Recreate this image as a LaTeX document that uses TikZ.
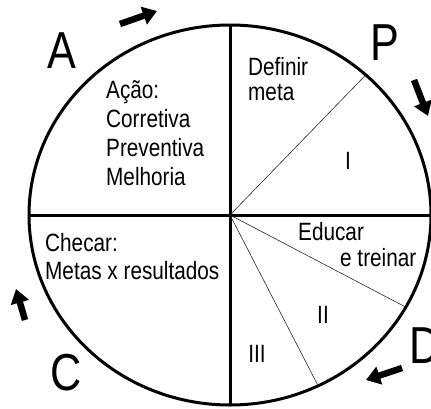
\documentclass[tikz,border=0pt]{standalone}
\usepackage{fontspec}
\setmainfont{Liberation Sans}[FakeStretch=0.83]
\usetikzlibrary{arrows.meta}
\tikzset{
  txt/.style={inner sep=0pt, anchor=base west, align=left, font=\fontsize{25}{29}\selectfont},
  letra/.style={inner sep=0pt, anchor=base, font=\fontsize{52}{52}\selectfont},
  romano/.style={inner sep=0pt, font=\fontsize{25}{29}\selectfont},
  setor/.style={line width=0.6pt, black!85},
  giro/.style={line width=6.5pt, -{Triangle[width=18pt,length=14pt]}},
}
\begin{document}
\begin{tikzpicture}[x=1pt,y=-1pt]
        \useasboundingbox (0,0) rectangle (431,408);
        \clip (0,0) rectangle (431,408);
        \coordinate (O) at (230,215);
        \path (O) ++(-90:201 and 190) coordinate (N);
        \path (O) ++(90:201 and 190) coordinate (S);
        \path (O) ++(180:201 and 190) coordinate (W);
        \path (O) ++(0:201 and 190) coordinate (E);
        \path (O) ++(-47.5:201 and 190) coordinate (p1);
        \path (O) ++(29:201 and 190) coordinate (p2);
        \path (O) ++(64:201 and 190) coordinate (p3);
        % circulo e quadrantes
        \draw[line width=3pt] (O) ellipse [x radius=201, y radius=190];
        \draw[line width=3pt] (N) -- (S);
        \draw[line width=3pt] (W) -- (E);
        \draw[setor] (O) -- (p1);
        \draw[setor] (O) -- (p2);
        \draw[setor] (O) -- (p3);
        % letras do ciclo
        \node[letra] (A) at (62,68) {A};
        \node[letra] (P) at (385,60) {P};
        \node[letra] (C) at (66,390) {C};
        \node[letra, anchor=base west] (D) at (409,363) {D};
        % textos (base = ultima linha)
        \node[txt] (acao) at (106,185) {Ação:\\Corretiva\\Preventiva\\Melhoria};
        \node[txt, font=\fontsize{25}{25}\selectfont] (definir) at (248,100) {Definir\\meta};
        \node[txt, font=\fontsize{25}{26}\selectfont] (educar) at (298,266) {Educar\\\hspace*{42pt}e treinar};
        \node[txt, font=\fontsize{25}{28}\selectfont] (checar) at (45,279) {Checar:\\Metas x resultados};
        \node[romano] (I) at (348,161) {I};
        \node[romano] (II) at (323,315) {II};
        \node[romano] (III) at (257,354) {III};
        % setas de giro
        \draw[giro] (120,24) -- (157,11);
        \draw[giro] (414,80) -- (428,116);
        \draw[giro] (402,368) -- (366,380);
        \draw[giro] (25,320) -- (16,289);
\end{tikzpicture}
\end{document}
